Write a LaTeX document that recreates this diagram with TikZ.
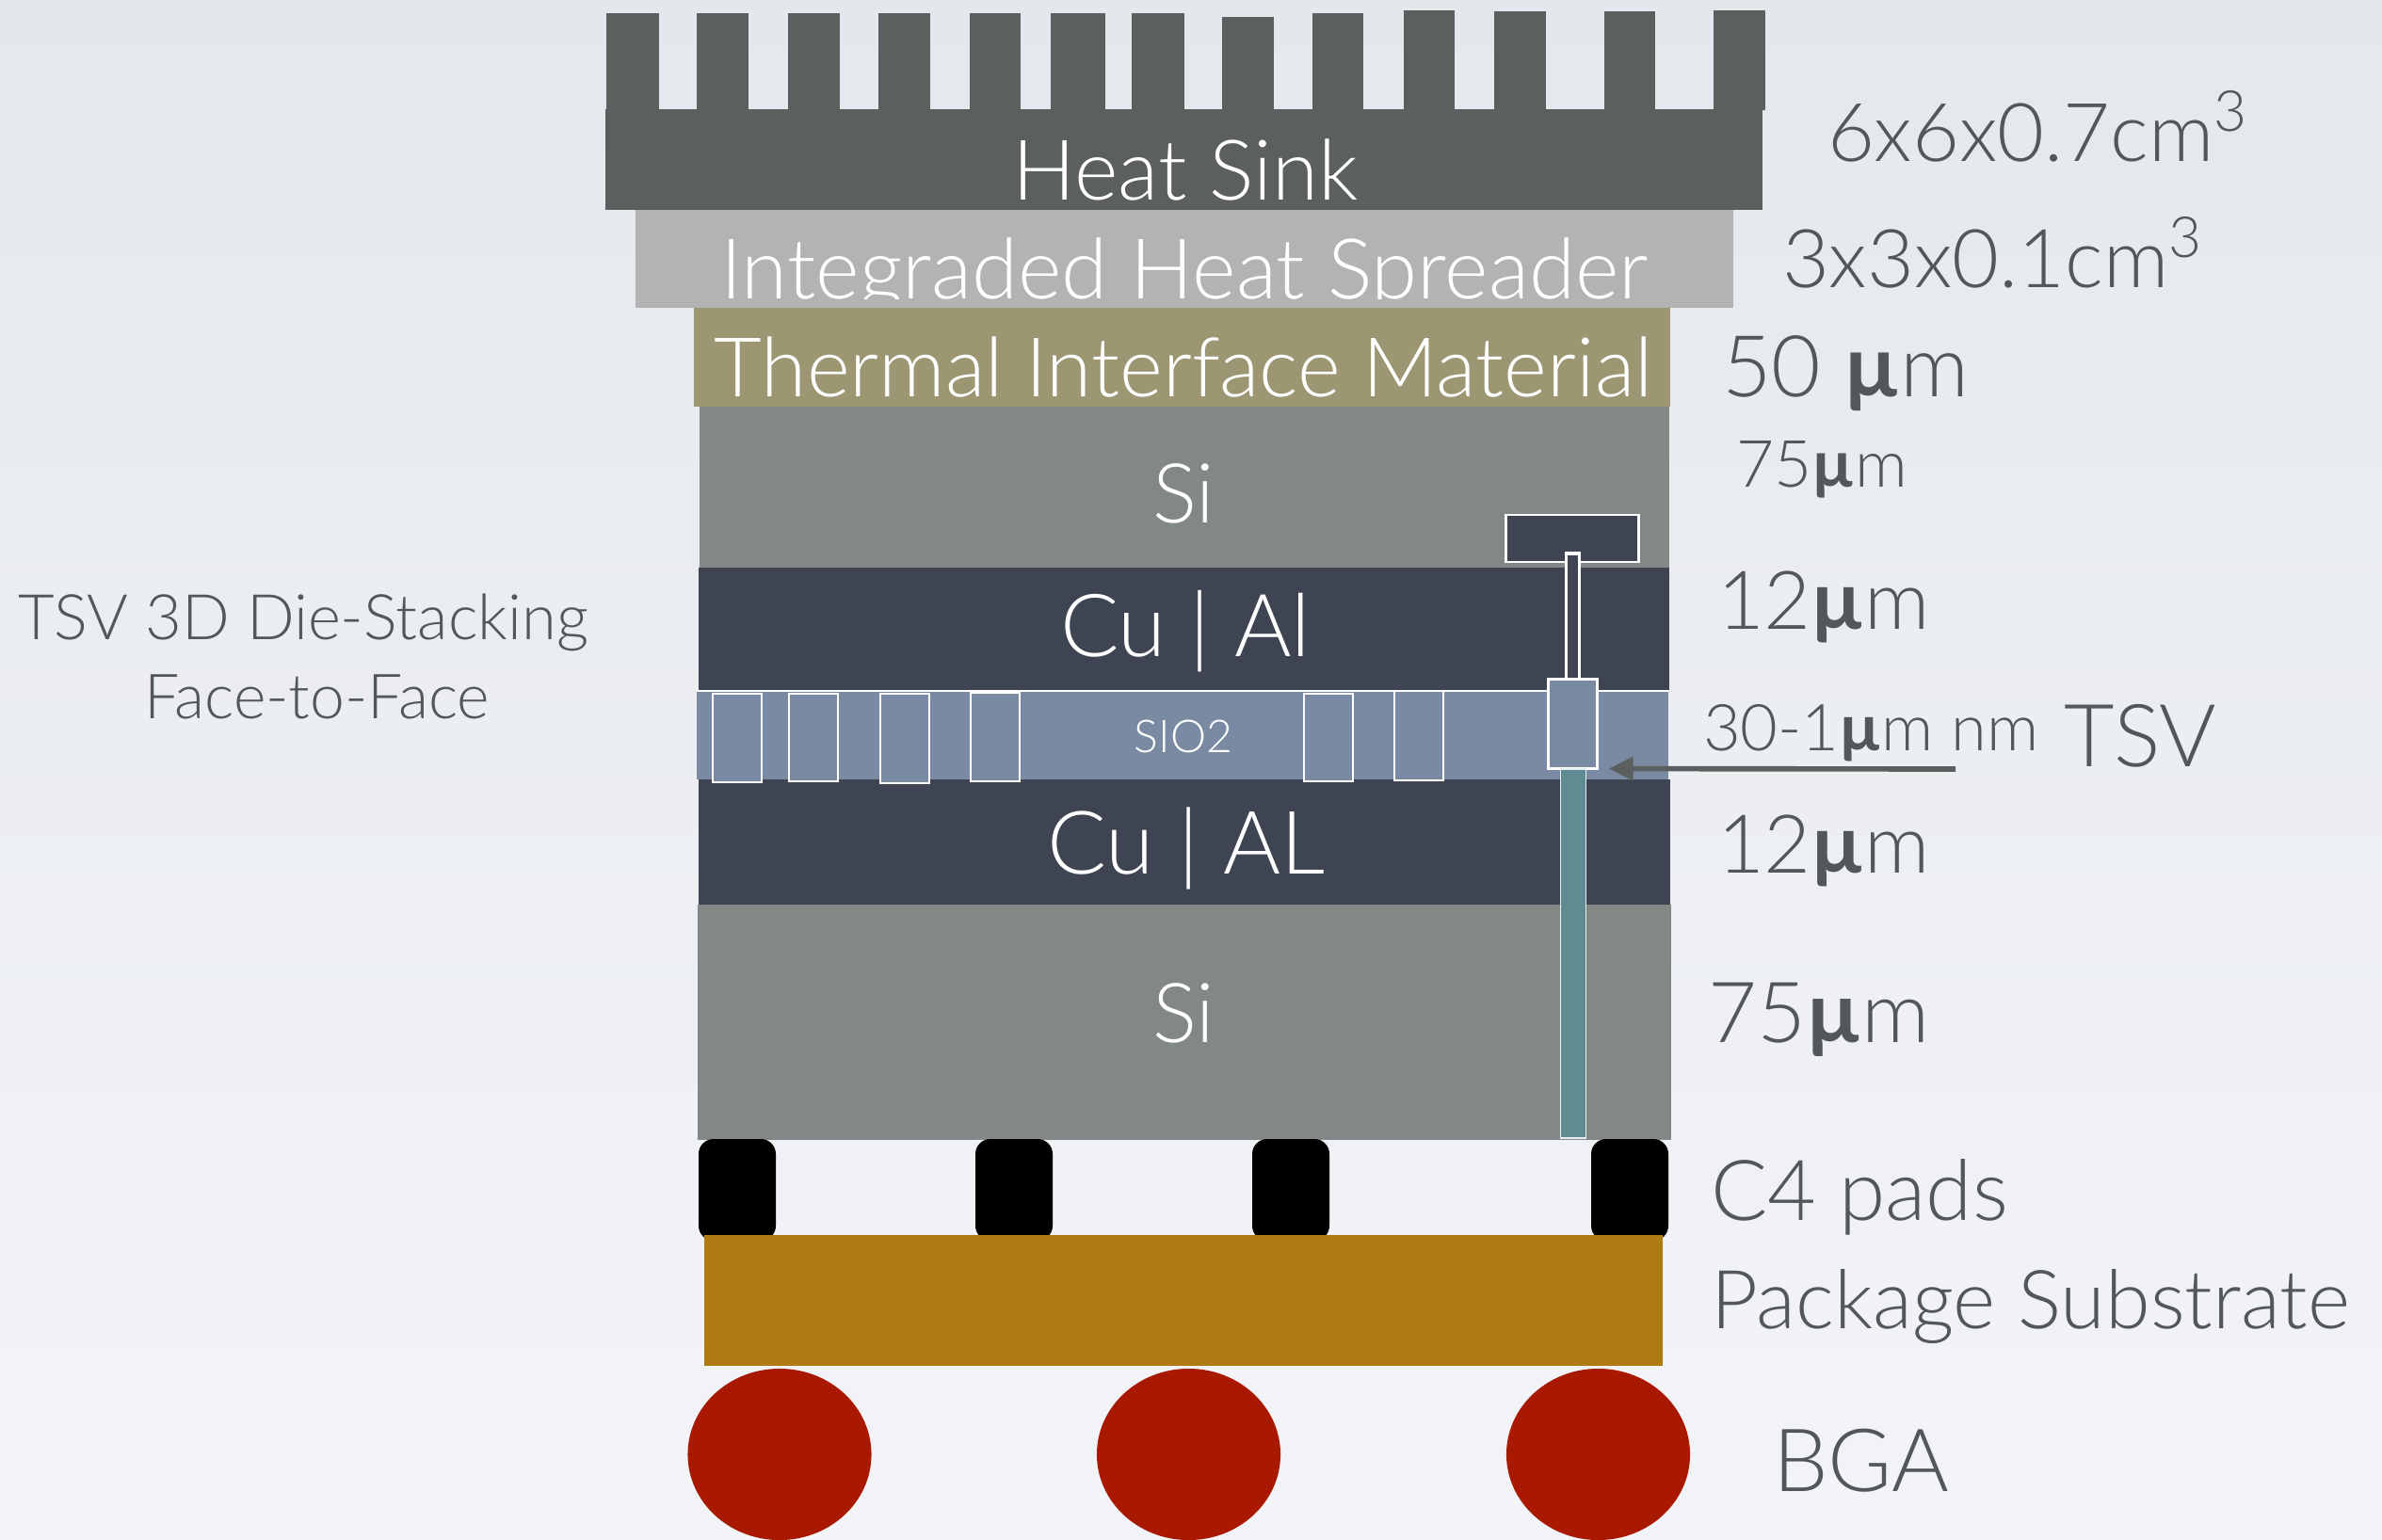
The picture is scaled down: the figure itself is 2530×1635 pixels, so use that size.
\documentclass[tikz,border=0pt]{standalone}
\usepackage{fontspec}
\setmainfont{Lato}[UprightFont=* Light,BoldFont=* Bold]
\usetikzlibrary{arrows.meta,shapes.geometric}

\definecolor{sinkgrey}{HTML}{5B5F5E}
\definecolor{spreadergrey}{HTML}{B3B3B3}
\definecolor{timolive}{HTML}{9C9672}
\definecolor{sigrey}{HTML}{828885}
\definecolor{cuslate}{HTML}{3E4451}
\definecolor{sioblue}{HTML}{7A8AA3}
\definecolor{viateal}{HTML}{5F8B92}
\definecolor{substrategold}{HTML}{B07A12}
\definecolor{bgared}{HTML}{A91900}
\definecolor{labelgrey}{HTML}{53575A}
\definecolor{slidetop}{HTML}{E4E8EC}
\definecolor{slidebottom}{HTML}{F3F4F8}

\newcommand{\um}{{\bfseries µ}m}
\tikzset{
  onlayer/.style={anchor=base,inner sep=0pt,outer sep=0pt,text=white,font=\fontsize{#1}{#1}\selectfont},
  sidelabel/.style={anchor=base west,inner sep=0pt,outer sep=0pt,text=labelgrey,font=\fontsize{#1}{#1}\selectfont},
  bondbox/.style={draw=white,line width=0.7pt,fill=sioblue,inner sep=0pt,outer sep=0pt,minimum width=0.52cm},
  metalbox/.style={draw=white,line width=0.7pt,fill=cuslate,inner sep=0pt,outer sep=0pt},
  pad/.style={fill=black,rounded corners=4.5pt},
  ball/.style={ellipse,fill=bgared,inner sep=0pt,outer sep=0pt,minimum width=1.95cm,minimum height=1.82cm},
  pointer/.style={draw=sinkgrey,line width=1.6pt,-{Triangle[length=7.4pt,width=6.8pt]},shorten >=3.4pt},
}

\begin{document}
\begin{tikzpicture}[x=0.01cm,y=-0.01cm]
\useasboundingbox (0,0) rectangle (2530,1635);
\shade[top color=slidetop,bottom color=slidebottom] (0,0) rectangle (2530,1635);

\foreach \l/\r/\t in {644/700/14,740/795/14,837/892/14,933/988/14,1030/1084/14,1116/1174/14,1202/1258/14,1298/1353/18,1394/1448/14,1491/1545/11,1587/1642/12,1704/1758/12,1820/1875/11}
  \fill[sinkgrey] (\l,\t) rectangle (\r,117);
\fill[sinkgrey] (643,116) rectangle (1872,223);
\fill[spreadergrey] (675,223) rectangle (1841,327);
\fill[timolive] (737,327) rectangle (1774,432);
\fill[sigrey] (743,432) rectangle (1773,603);
\fill[cuslate] (742,603) rectangle (1773,733);
\fill[sioblue] (740,735) rectangle (1772,828);
\draw[white,line width=0.55pt] (740,734) -- (1772,734);
\fill[cuslate] (742,828) rectangle (1774,961);
\fill[sigrey] (741,961) rectangle (1775,1211);

\foreach \x/\t/\b [count=\i] in {783/737/831,864/737/830,961/737/832,1057/736/830,1411/737/830,1507/734/829}
  \node[bondbox,minimum height={(\b-\t)*0.01cm}] (bond\i) at (\x,{(\t+\b)/2}) {};

\node[metalbox,minimum width=1.41cm,minimum height=0.5cm] (topmetal) at (1670,572) {};
\node[metalbox,line width=1pt,minimum width=0.14cm,minimum height=1.34cm] (thinvia) at (1670.5,655) {};
\node[bondbox,minimum height=0.95cm] (tsvbox) at (1670.5,769) {};
\node[draw=white!85!viateal,line width=0.4pt,fill=viateal,inner sep=0pt,outer sep=0pt,minimum width=0.27cm,minimum height=3.92cm] (tsvshaft) at (1671,1013) {};

\foreach \x in {783,1077,1371,1731}
  \fill[pad] (\x-41,1210) rectangle (\x+41,1318);
\fill[substrategold] (748,1312) rectangle (1766,1451);
\foreach \x [count=\i] in {828,1262.5,1697.5}
  \node[ball] (ball\i) at (\x,1545) {};

\node[onlayer=25.3] (sinktext) at (1259,212) {Heat Sink};
\begin{scope}
\clip (675,223) rectangle (1841,317);
\node[onlayer=25.3] (spreadertext) at (1258,317) {Integraded Heat Spreader};
\end{scope}
\node[onlayer=24.9] (timtext) at (1257,421) {Thermal Interface Material};
\node[onlayer=25] (sitoptext) at (1257,555) {Si};
\node[onlayer=26.3] (cutoptext) at (1259,697) {Cu | Al};
\node[onlayer=13.7] (siotext) at (1257,799) {SIO2};
\node[onlayer=26.5] (cubottext) at (1260,928) {Cu | AL};
\node[onlayer=25] (sibottext) at (1257,1107) {Si};

\node[sidelabel=24.5] (sinksize) at (1941,171) {6x6x0.7cm\textsuperscript{3}};
\node[sidelabel=24.5] (spreadersize) at (1893,305) {3x3x0.1cm\textsuperscript{3}};
\node[sidelabel=25.8] (timsize) at (1829,421) {50 \um};
\node[sidelabel=19.7] (sitopsize) at (1844,517) {75\um};
\node[sidelabel=24.5] (cutopsize) at (1824,668) {12\um};
\node[sidelabel=19.5] (siosize) at (1809,797) {30-1\um{} nm};
\node[sidelabel=26.3] (tsvlabel) at (2192,814) {TSV};
\node[sidelabel=24.5] (cubotsize) at (1824,927) {12\um};
\node[sidelabel=25.5] (sibotsize) at (1814,1107) {75\um};
\node[sidelabel=25.4] (padlabel) at (1817,1296) {C4 pads};
\node[sidelabel=24.6] (substratelabel) at (1817,1411) {Package Substrate};
\node[sidelabel=26.4] (bgalabel) at (1883,1584) {BGA};
\node[sidelabel=19] (stacklabel) at (19,679) {TSV 3D Die-Stacking};
\node[sidelabel=18.8] (facelabel) at (153,763) {Face-to-Face};

\coordinate (arrowtail) at (2077,817);
\draw[pointer] (arrowtail) -- (tsvbox.south east);
\end{tikzpicture}
\end{document}
